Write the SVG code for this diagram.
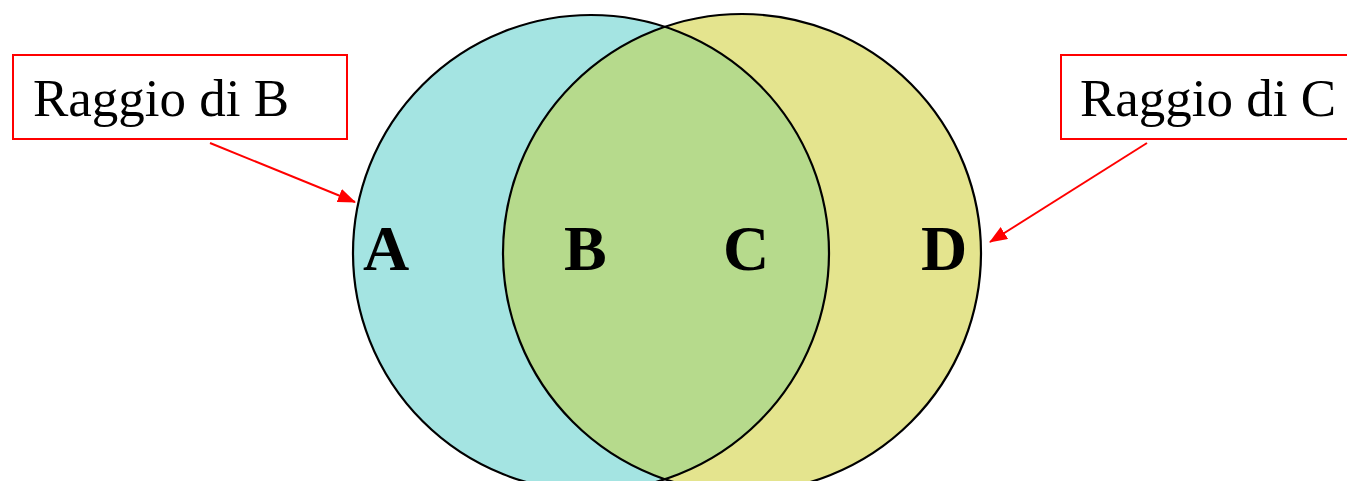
<svg xmlns="http://www.w3.org/2000/svg" width="1347" height="481" viewBox="0 0 1347 481">
<style>
.lbl{font-family:"Liberation Serif","Times New Roman",serif;font-size:53px;fill:#000}
.big{font-family:"Liberation Serif","Times New Roman",serif;font-size:64px;font-weight:bold;fill:#000}
.box{fill:#fff;stroke:#ff0000;stroke-width:2}
.ring{fill:none;stroke:#000;stroke-width:2.2}
.conn{stroke:#ff0000;stroke-width:2;fill:none}
</style>
<defs>
<marker id="ah" markerWidth="18" markerHeight="14" refX="17" refY="7" orient="auto" markerUnits="userSpaceOnUse">
<path d="M0,0 L18,7 L0,14 Z" fill="#ff0000"/>
</marker>
<clipPath id="clipL"><circle cx="591" cy="253" r="238"/></clipPath>
</defs>
<rect width="1347" height="481" fill="#fff"/>
<g id="circleB">
<circle cx="591" cy="253" r="238" fill="#a4e4e2"/>
</g>
<g id="circleC">
<circle cx="742" cy="253" r="239" fill="#e4e48e"/>
<circle cx="742" cy="253" r="239" fill="#b6da8c" clip-path="url(#clipL)"/>
<circle cx="591" cy="253" r="238" class="ring"/>
<circle cx="742" cy="253" r="239" class="ring"/>
</g>
<g id="labels">
<text class="big" x="363" y="270">A</text>
<text class="big" x="564" y="270">B</text>
<text class="big" x="723" y="270">C</text>
<text class="big" x="921" y="270">D</text>
</g>
<g id="boxB">
<rect class="box" x="13" y="55" width="334" height="84"/>
<text class="lbl" x="33" y="116">Raggio di B</text>
</g>
<g id="boxC">
<rect class="box" x="1061" y="55" width="300" height="84"/>
<text class="lbl" x="1080" y="116">Raggio di C</text>
</g>
<g id="connectors">
<line class="conn" x1="210" y1="143" x2="355" y2="202" marker-end="url(#ah)"/>
<line class="conn" x1="1147" y1="143" x2="990" y2="242" marker-end="url(#ah)"/>
</g>
</svg>
